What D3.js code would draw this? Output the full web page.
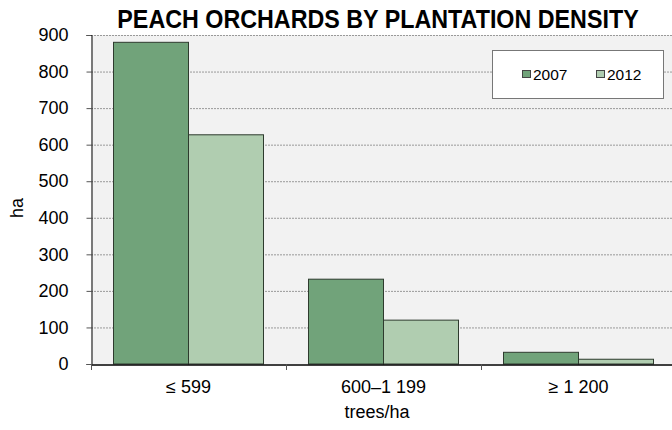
<!DOCTYPE html>
<html><head><meta charset="utf-8">
<script src="https://cdn.jsdelivr.net/npm/d3@7"></script>
<style>body{margin:0;background:#fff}svg{display:block;font-family:"Liberation Sans",Arial,sans-serif}</style>
</head><body>
<svg id="c" width="672" height="430"></svg>
<script>
const categories = ["≤ 599", "600–1 199", "≥ 1 200"];
const seriesNames = ["2007", "2012"];
const values2007 = [880, 232, 32];
const values2012 = [627, 120, 13];
const yTicks = [0, 100, 200, 300, 400, 500, 600, 700, 800, 900];
const colors = ["#71a37a", "#b0cdb0"];

const svg = d3.select("#c");
const L = 91, R = 676, T = 35, B = 364;
const FONT = '"Liberation Sans",Arial,sans-serif';

const x = d3.scaleBand().domain(categories).range([L, R]).padding(0);
const xs = d3.scaleBand().domain(seriesNames).range([0, x.bandwidth()]).paddingInner(0).paddingOuter(0.3);
const y = d3.scaleLinear().domain([0, 900]).range([B, T]);

svg.append("rect").attr("x", L).attr("y", T).attr("width", R - L).attr("height", B - T).attr("fill", "#f2f2f2");

// gridlines
svg.append("g").selectAll("line").data(yTicks.filter(d => d > 0)).join("line")
  .attr("x1", L).attr("x2", R).attr("y1", d => y(d) + 0.5).attr("y2", d => y(d) + 0.5)
  .attr("stroke", "#999").attr("stroke-width", 1).attr("stroke-dasharray", "2,1");

// bars
const data = categories.map((c, i) => ({c, vals: [values2007[i], values2012[i]]}));
const g = svg.append("g");
data.forEach(d => {
  seriesNames.forEach((s, j) => {
    const v = d.vals[j];
    g.append("rect")
      .attr("x", x(d.c) + xs(s)).attr("y", y(v))
      .attr("width", xs.bandwidth()).attr("height", B - y(v))
      .attr("fill", colors[j]).attr("stroke", "#2e3b2e").attr("stroke-width", 1);
  });
});

// y axis
const yAxis = d3.axisLeft(y).tickValues(yTicks).tickSize(5).tickPadding(18).tickFormat(d3.format("d"));
const ya = svg.append("g").attr("transform", `translate(${L + 0.5},0)`).call(yAxis);
ya.select(".domain").attr("stroke", "#000");
ya.selectAll(".tick line").attr("stroke", "#555");
ya.selectAll("text").attr("font-size", 18).attr("fill", "#000").attr("font-family", FONT);

// x axis
const xAxis = d3.axisBottom(x).tickSize(0).tickPadding(16);
const xa = svg.append("g").attr("transform", `translate(0,${B + 0.5})`).call(xAxis);
xa.select(".domain").attr("stroke", "#000").attr("stroke-width", 1.5);
xa.selectAll("text").attr("font-size", 18).attr("fill", "#000").attr("font-family", FONT);
svg.append("g").selectAll("line").data(categories).join("line")
  .attr("x1", d => x(d) + 0.5).attr("x2", d => x(d) + 0.5).attr("y1", B).attr("y2", B + 6)
  .attr("stroke", "#555");

// titles
svg.append("text").attr("transform", "translate(378,28) scale(1,1.08)").attr("text-anchor", "middle")
  .attr("font-size", 23.3).attr("font-weight", "bold").text("PEACH ORCHARDS BY PLANTATION DENSITY");
svg.append("text").attr("x", 377).attr("y", 418).attr("text-anchor", "middle")
  .attr("font-size", 18).text("trees/ha");
svg.append("text").attr("transform", "translate(23,208) rotate(-90)").attr("text-anchor", "middle")
  .attr("font-size", 18).text("ha");

// legend
const lg = svg.append("g");
lg.append("rect").attr("x", 492.5).attr("y", 50.5).attr("width", 171).attr("height", 48)
  .attr("fill", "#fff").attr("stroke", "#777");
const lx = [522, 596];
seriesNames.forEach((s, j) => {
  lg.append("rect").attr("x", lx[j] + 0.5).attr("y", 70.5).attr("width", 8).attr("height", 7)
    .attr("fill", colors[j]).attr("stroke", "#444");
  lg.append("text").attr("x", lx[j] + 11).attr("y", 80).attr("font-size", 15.5).text(s);
});
</script>
</body></html>
